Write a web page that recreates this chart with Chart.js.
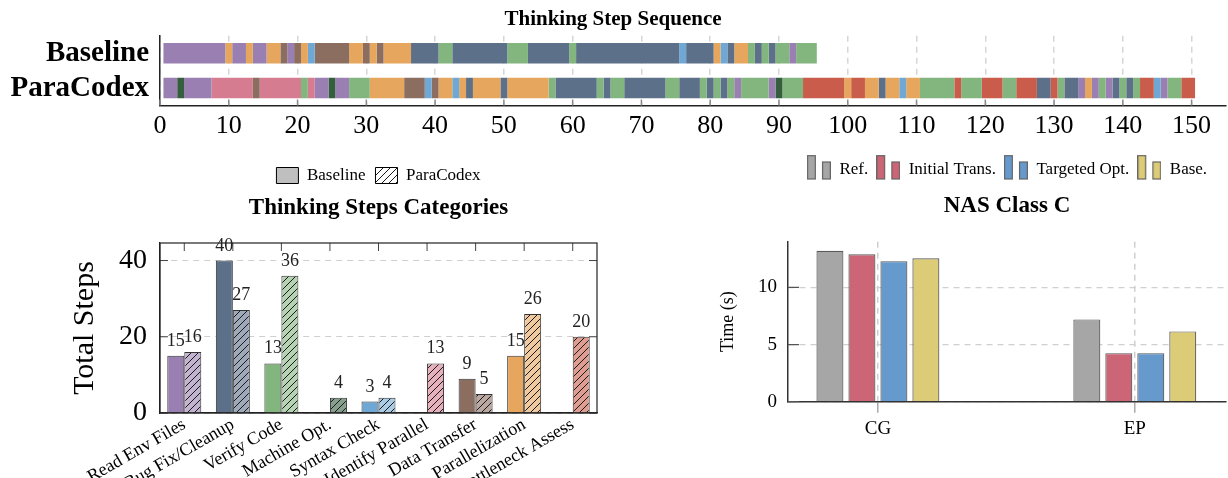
<!DOCTYPE html>
<html><head><meta charset="utf-8">
<script src="https://cdn.jsdelivr.net/npm/chart.js@4.4.1/dist/chart.umd.min.js"></script>
<style>
html,body{margin:0;padding:0;background:#fff;}
#wrap{position:relative;width:1228px;height:478px;overflow:hidden;background:#fff;}
canvas{position:absolute;}
</style></head><body>
<div id="wrap">
<canvas id="c1" width="1228" height="145" style="left:0;top:0"></canvas>
<canvas id="c2" width="640" height="333" style="left:0;top:145px"></canvas>
<canvas id="c3" width="588" height="333" style="left:640px;top:145px"></canvas>
</div>
<script>
// ---------- data ----------
const categories = ['Read Env Files','Bug Fix/Cleanup','Verify Code','Machine Opt.','Syntax Check','Identify Parallel','Data Transfer','Parallelization','Bottleneck Assess'];
const categoryColors = ['#9a80b2','#5c7089','#83b57f','#355e3f','#6fa8d4','#d67c90','#8c6e61','#e6a65d','#c95c4a'];
const baselineSteps  = [15,40,13,0,3,0,9,15,0];
const paracodexSteps = [16,27,36,4,4,13,5,26,20];

const seqRows = ['Baseline','ParaCodex'];
// [category index, run length in steps]
const baselineRuns = [
 [0,9],[7,1],[0,2],[7,1],[0,2],[7,2],[6,1],[0,1],[6,1],[7,1],[4,1],[6,5],[7,2],[6,1],[7,1],[6,1],[7,4],
 [1,4],[2,2],[1,8],[2,3],[1,6],[2,1],[1,15],[4,1],[1,4],[7,1],[4,1],[1,1],[7,2],[2,1],[1,1],[2,1],[1,1],[2,2],[0,1],[2,3]
];
const paracodexRuns = [
 [0,2],[3,1],[0,4],[5,6],[6,1],[5,6],[2,1],[5,1],[0,2],[3,1],[0,2],[2,3],[7,5],[6,3],[4,1],[6,1],[7,2],[4,1],[7,1],[1,1],
 [7,4],[1,1],[7,6],[2,1],[1,6],[2,1],[1,1],[2,2],[1,6],[2,2],[1,3],[2,1],[1,1],[2,1],[1,1],[2,1],[0,1],[2,4],[0,1],[3,1],[2,3],
 [8,6],[7,1],[8,2],[7,2],[1,1],[7,2],[4,1],[7,2],[2,5],[8,1],[2,3],[8,3],[2,2],[8,3],[1,2],[8,1],[2,1],[1,2],[0,1],[7,1],
 [0,1],[2,1],[0,1],[1,1],[2,1],[1,1],[2,1],[8,2],[4,1],[0,1],[2,2],[8,2]
];

const nasBenchmarks = ['CG','EP'];
const nasVersions = ['Ref.','Initial Trans.','Targeted Opt.','Base.'];
const nasColors = ['#a6a6a6','#cc6677','#6699cc','#ddcc77'];
const nasRef      = [13.2, 7.2];
const nasInitial  = [12.9, 4.25];
const nasTargeted = [12.3, 4.25];
const nasBase     = [12.55, 6.15];

// ---------- helpers ----------
const SERIF = "'Liberation Serif','Times New Roman',serif";
function mix(hex, t){const n=parseInt(hex.slice(1),16);const r=n>>16,g=(n>>8)&255,b=n&255;const f=c=>Math.round(c+(255-c)*t);return `rgb(${f(r)},${f(g)},${f(b)})`;}
function hatch(fill){const s=7;const c=document.createElement('canvas');c.width=s;c.height=s;const x=c.getContext('2d');
 x.fillStyle=fill;x.fillRect(0,0,s,s);x.strokeStyle='#1a1a1a';x.lineWidth=1;x.beginPath();
 x.moveTo(0,s);x.lineTo(s,0);x.moveTo(-1,1);x.lineTo(1,-1);x.moveTo(s-1,s+1);x.lineTo(s+1,s-1);x.stroke();
 return x.createPattern(c,'repeat');}
function legendIcon(color){const c=document.createElement('canvas');c.width=24;c.height=30;const x=c.getContext('2d');
 x.fillStyle=color;x.strokeStyle='#666';x.lineWidth=1.2;
 x.fillRect(0.6,0.7,7.8,23.3);x.strokeRect(0.6,0.7,7.8,23.3);
 x.fillRect(15.6,7,7.8,17);x.strokeRect(15.6,7,7.8,17);return c;}

const innerTicks = {id:'innerTicks', afterDatasetsDraw(chart,args,opts){
  const ctx=chart.ctx,a=chart.chartArea;
  (opts.items||[]).forEach(it=>{const s=chart.scales[it.scale];ctx.save();ctx.strokeStyle=it.color;ctx.lineWidth=it.width||1;ctx.beginPath();
   s.ticks.forEach((t,i)=>{const p=s.getPixelForTick(i);
    it.sides.forEach(side=>{
     if(side==='bottom'){ctx.moveTo(p,a.bottom);ctx.lineTo(p,a.bottom-it.len);}
     if(side==='top'){ctx.moveTo(p,a.top);ctx.lineTo(p,a.top+it.len);}
     if(side==='left'){ctx.moveTo(a.left,p);ctx.lineTo(a.left+it.len,p);}
     if(side==='right'){ctx.moveTo(a.right,p);ctx.lineTo(a.right-it.len,p);}
    });});
   ctx.stroke();ctx.restore();});
}};
const frame = {id:'frame', afterDatasetsDraw(chart,args,opts){ if(!opts.enabled) return; const a=chart.chartArea,ctx=chart.ctx;
  ctx.save();ctx.strokeStyle=opts.color;ctx.lineWidth=opts.width;ctx.strokeRect(a.left,a.top,a.right-a.left,a.bottom-a.top);ctx.restore();}};
const valueLabels = {id:'valueLabels', afterDatasetsDraw(chart,args,opts){ if(!opts.enabled) return; const ctx=chart.ctx;
  ctx.save();ctx.font=`${opts.size}px ${SERIF}`;ctx.fillStyle='#222';ctx.textAlign='center';ctx.textBaseline='alphabetic';
  chart.data.datasets.forEach((ds,i)=>{chart.getDatasetMeta(i).data.forEach((bar,j)=>{const v=ds.data[j]; if(v==null) return;
    ctx.fillText(String(v), bar.x, bar.y-opts.offset);});});
  ctx.restore();}};

// ---------- chart 1: sequence ----------
function runsToDatasets(runs,row){let pos=0.5;return runs.map(([cat,len])=>{const d=[null,null];d[row]=[pos,pos+len];pos+=len;
  return {data:d,backgroundColor:categoryColors[cat],borderWidth:0,grouped:false,barPercentage:0.586,categoryPercentage:1};});}

new Chart(document.getElementById('c1'),{
 type:'bar',
 data:{labels:seqRows, datasets:[...runsToDatasets(baselineRuns,0),...runsToDatasets(paracodexRuns,1)]},
 plugins:[innerTicks],
 options:{indexAxis:'y',responsive:false,animation:false,events:[],
  layout:{padding:{left:0,right:2,top:0,bottom:0}},
  plugins:{legend:{display:false},tooltip:{enabled:false},
   title:{display:true,text:'Thinking Step Sequence',color:'#000',font:{family:SERIF,size:21,weight:'bold'},padding:{top:7,bottom:3.5}},
   innerTicks:{items:[{scale:'x',sides:['bottom'],len:6,color:'#8a8a8a',width:1.5}]}},
  scales:{
   x:{type:'linear',min:0,max:155,
      ticks:{stepSize:10,includeBounds:false,color:'#000',font:{family:SERIF,size:26},padding:5,maxRotation:0},
      grid:{color:'#d6d6d6',lineWidth:1.5,drawTicks:false},
      border:{display:true,color:'#222',width:1.5,dash:[6,5]},
      afterFit:s=>{s.height=39.5;}},
   y:{type:'category',
      ticks:{color:'#000',font:{family:SERIF,size:29,weight:'bold'},padding:11,autoSkip:false},
      grid:{display:false,drawTicks:false},
      border:{display:true,color:'#222',width:1.5},
      afterFit:s=>{s.width=160;}}
  }}
});

// ---------- chart 2: categories ----------
const legendHatch = hatch('#ffffff');
new Chart(document.getElementById('c2'),{
 type:'bar',
 data:{labels:categories, datasets:[
  {label:'Baseline',data:baselineSteps.map(v=>v||null),backgroundColor:categoryColors,borderColor:'#333',borderWidth:1,categoryPercentage:0.7,barPercentage:1},
  {label:'ParaCodex',data:paracodexSteps.map(v=>v||null),backgroundColor:categoryColors.map(c=>hatch(mix(c,0.4))),borderColor:'#333',borderWidth:1,categoryPercentage:0.7,barPercentage:1}
 ]},
 plugins:[innerTicks,frame,valueLabels],
 options:{responsive:false,animation:false,events:[],
  layout:{padding:{left:0,right:43,top:12,bottom:0}},
  plugins:{tooltip:{enabled:false},
   legend:{display:true,position:'top',weight:3000,fullSize:false,
     labels:{color:'#000',font:{family:SERIF,size:17},boxWidth:22,boxHeight:16,padding:10,
       generateLabels:()=>[
        {text:'Baseline',fillStyle:'#bfbfbf',strokeStyle:'#000',lineWidth:1,hidden:false,datasetIndex:0},
        {text:'ParaCodex',fillStyle:legendHatch,strokeStyle:'#000',lineWidth:1,hidden:false,datasetIndex:1}]}},
   title:{display:true,text:'Thinking Steps Categories',color:'#000',fullSize:false,font:{family:SERIF,size:23,weight:'bold'},padding:{top:0,bottom:21.4}},
   frame:{enabled:true,color:'#222',width:1.2},
   valueLabels:{enabled:true,size:18,offset:10},
   innerTicks:{items:[{scale:'x',sides:['top'],len:8,color:'#444',width:1},{scale:'y',sides:['left','right'],len:8,color:'#444',width:1}]}},
  scales:{
   x:{ticks:{color:'#000',font:{family:SERIF,size:18},minRotation:30,maxRotation:30,padding:1,autoSkip:false},
      grid:{display:false,drawTicks:false},border:{display:true,color:'#222',width:1.2},
      afterFit:s=>{s.height=65;}},
   y:{min:0,max:44.6,
      ticks:{stepSize:20,includeBounds:false,color:'#000',font:{family:SERIF,size:28},padding:13},
      grid:{color:'#cfcfcf',lineWidth:1,drawTicks:false},
      border:{display:true,color:'#222',width:1.2,dash:[6,5]},
      title:{display:true,text:'Total Steps',color:'#000',font:{family:SERIF,size:30},padding:{top:67,bottom:0}},
      afterFit:s=>{s.width=160;}}
  }}
});

// ---------- chart 3: NAS ----------
const nasValues = [nasRef,nasInitial,nasTargeted,nasBase];
new Chart(document.getElementById('c3'),{
 type:'bar',
 data:{datasets:nasVersions.map((name,i)=>({label:name,data:nasBenchmarks.map((b,j)=>({x:j,y:nasValues[i][j]})),
   backgroundColor:nasColors[i],borderColor:'#5a5a5a',borderWidth:1.2,categoryPercentage:0.498,barPercentage:0.844}))},
 plugins:[innerTicks],
 options:{responsive:false,animation:false,events:[],
  layout:{padding:{left:0,right:2,top:8.5,bottom:0}},
  plugins:{tooltip:{enabled:false},
   legend:{display:true,position:'top',weight:3000,fullSize:false,
     labels:{usePointStyle:true,pointStyleWidth:24,color:'#000',font:{family:SERIF,size:17},padding:8,
       generateLabels:(chart)=>chart.data.datasets.map((d,i)=>({text:d.label,pointStyle:legendIcon(nasColors[i]),fillStyle:nasColors[i],strokeStyle:'#666',lineWidth:0,hidden:false,datasetIndex:i}))}},
   title:{display:true,text:'NAS Class C',color:'#000',fullSize:false,font:{family:SERIF,size:23,weight:'bold'},padding:{top:3.7,bottom:21.9}},
   innerTicks:{items:[{scale:'y',sides:['left'],len:11,color:'#555',width:1.2}]}},
  scales:{
   x:{type:'linear',min:-0.35,max:1.355,offset:false,
      ticks:{stepSize:1,includeBounds:false,color:'#000',font:{family:SERIF,size:19},padding:5,callback:v=>nasBenchmarks[v]??''},
      grid:{offset:false,color:'#cfcfcf',lineWidth:1.5,tickColor:'#aaa',tickLength:11,tickWidth:1.5},
      border:{display:true,color:'#333',width:1.5,dash:[6,5]},
      afterFit:s=>{s.height=76.3;}},
   y:{min:0,max:14,
      ticks:{stepSize:5,includeBounds:false,color:'#000',font:{family:SERIF,size:19},padding:11},
      grid:{color:'#d0d0d0',lineWidth:1.2,drawTicks:false},
      border:{display:true,color:'#333',width:1.5,dash:[6,5]},
      title:{display:true,text:'Time (s)',color:'#000',font:{family:SERIF,size:18},padding:{top:77,bottom:0}},
      afterFit:s=>{s.width=148;}}
  }}
});
</script>
</body></html>
